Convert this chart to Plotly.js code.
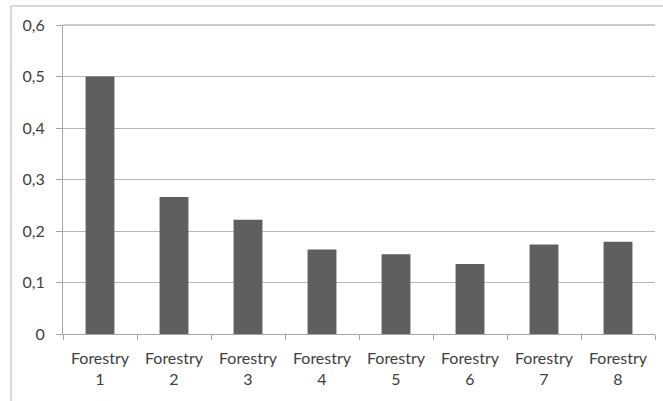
<!DOCTYPE html>
<html>
<head>
<meta charset="utf-8">
<script src="https://cdn.plot.ly/plotly-3.0.1.min.js"></script>
<style>
html,body{margin:0;padding:0;background:#fff;}
#wrap{position:relative;width:663px;height:401px;}
#frame{position:absolute;left:10px;top:5px;width:653px;height:396px;border-top:2px solid #d9d9d9;border-left:2px solid #d9d9d9;box-sizing:border-box;pointer-events:none;}
#chart{position:absolute;left:0;top:0;width:663px;height:401px;}
</style>
</head>
<body>
<div id="wrap"><div id="chart"></div><div id="frame"></div></div>
<script>
const categories = ["Forestry<br>1","Forestry<br>2","Forestry<br>3","Forestry<br>4","Forestry<br>5","Forestry<br>6","Forestry<br>7","Forestry<br>8"];
const values = [0.5, 0.266, 0.222, 0.164, 0.155, 0.136, 0.174, 0.179];
const yTickVals = [0, 0.1, 0.2, 0.3, 0.4, 0.5, 0.6];
const yTickText = ["0", "0,1", "0,2", "0,3", "0,4", "0,5", "0,6"];

const fontFam = "Lato, Open Sans, sans-serif";
Plotly.newPlot('chart', [{
  type: 'bar',
  x: categories,
  y: values,
  marker: {color: '#5f5f5f', line: {width: 0}},
  hoverinfo: 'none'
}], {
  width: 663, height: 401,
  margin: {l: 63, r: 8, t: 25, b: 67, pad: 0},
  paper_bgcolor: '#fff', plot_bgcolor: '#fff',
  bargap: 0.61,
  showlegend: false,
  font: {family: fontFam, size: 16, color: '#404040'},
  shapes: [{type: 'line', xref: 'paper', yref: 'paper', x0: 0, x1: 1, y0: 1, y1: 1,
            line: {color: '#b8b8b8', width: 1.5}, layer: 'above'}],
  xaxis: {
    type: 'category',
    showgrid: false,
    showline: true, linecolor: '#a6a6a6', linewidth: 1,
    ticks: 'outside', tickson: 'boundaries', ticklen: 5, tickcolor: '#a6a6a6',
    ticklabelstandoff: 10,
    tickfont: {family: fontFam, size: 16, color: '#404040'},
    zeroline: false,
    fixedrange: true
  },
  yaxis: {
    range: [0, 0.6],
    tickvals: yTickVals, ticktext: yTickText,
    showgrid: true, gridcolor: '#b8b8b8', gridwidth: 1,
    showline: true, linecolor: '#a6a6a6', linewidth: 1,
    ticks: 'outside', ticklen: 6, tickcolor: '#a6a6a6',
    ticklabelstandoff: 8,
    tickfont: {family: fontFam, size: 16, color: '#404040'},
    zeroline: false,
    fixedrange: true
  }
}, {staticPlot: true});
</script>
</body>
</html>
